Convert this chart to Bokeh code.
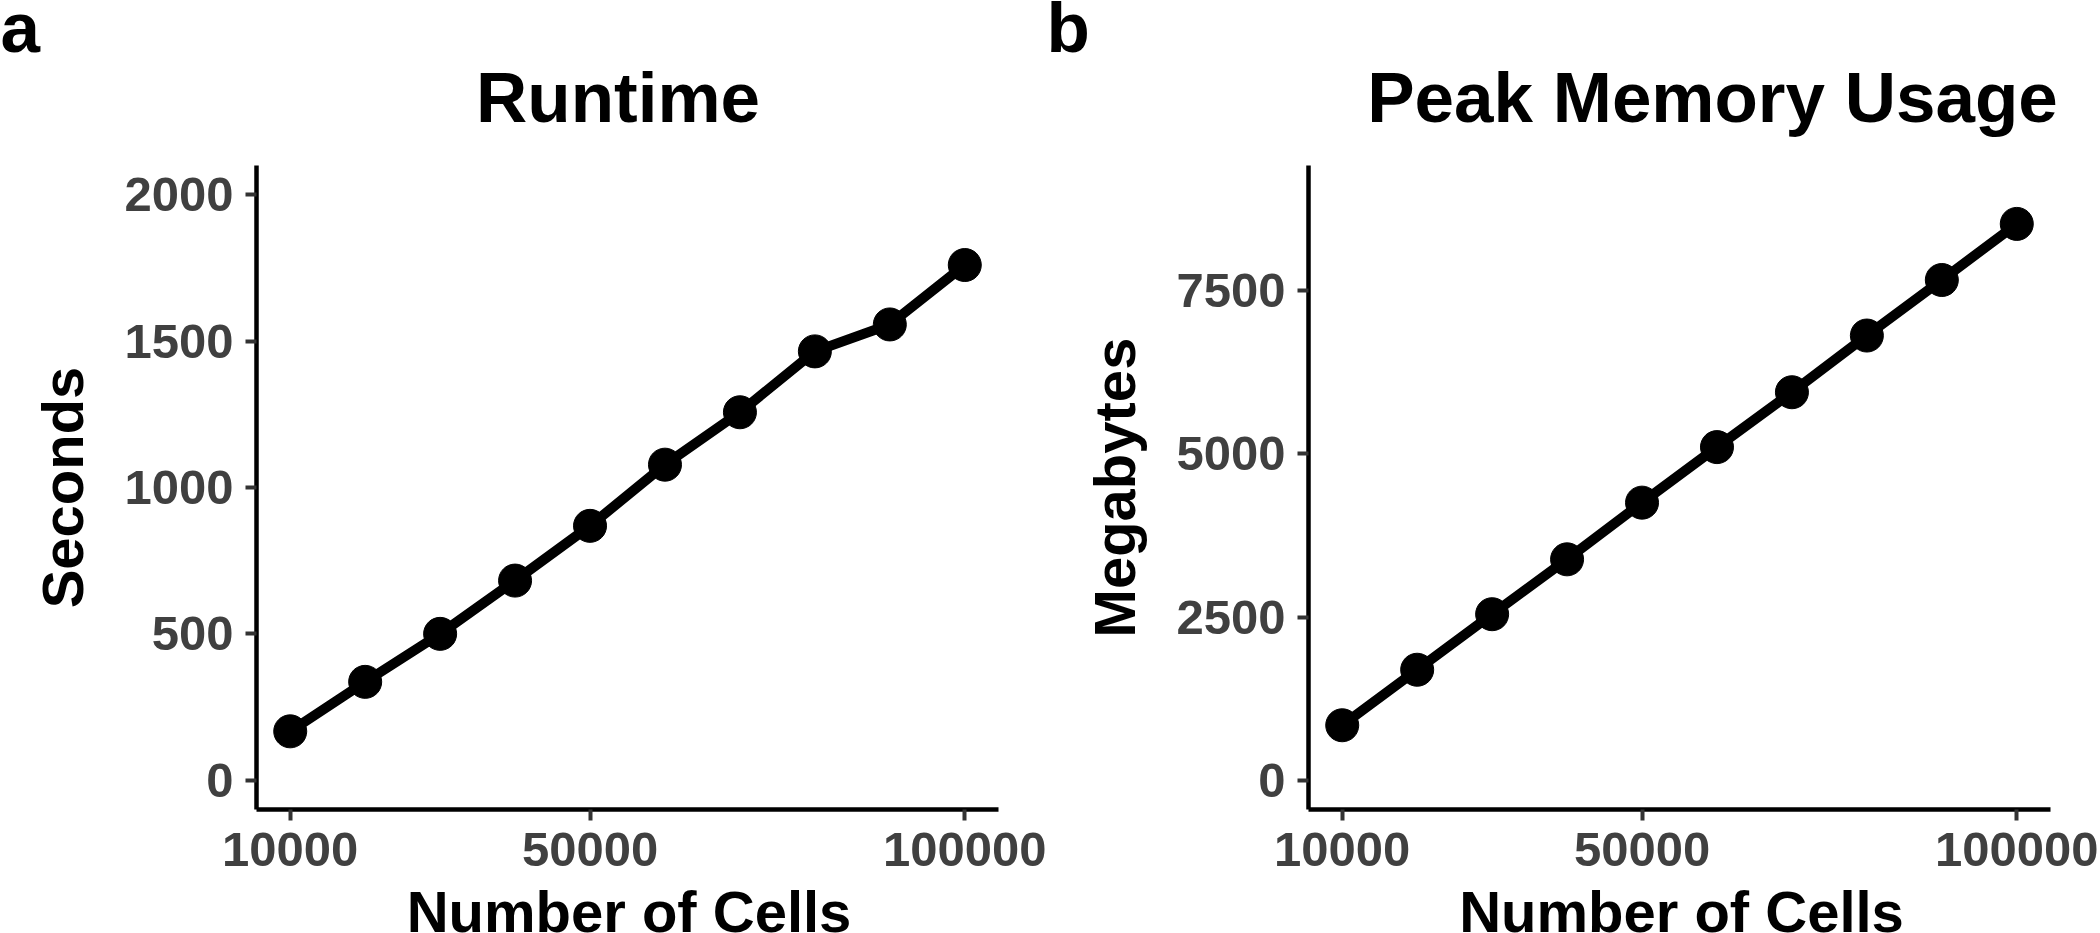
from bokeh.plotting import figure
from bokeh.layouts import row, column
from bokeh.models import Range1d, FixedTicker, BasicTickFormatter
from bokeh.core.properties import value
from bokeh.embed import file_html
from bokeh.resources import INLINE

# ---- data ----
cells = [10000, 20000, 30000, 40000, 50000, 60000, 70000, 80000, 90000, 100000]
runtime_seconds = [167, 336, 500, 682, 869, 1078, 1257, 1465, 1557, 1760]
memory_mb = [841, 1692, 2543, 3384, 4253, 5104, 5945, 6814, 7665, 8525]
x_ticks = [10000, 50000, 100000]
runtime_ticks = [0, 500, 1000, 1500, 2000]
memory_ticks = [0, 2500, 5000, 7500]
panel_titles = ["Runtime", "Peak Memory Usage"]
panel_tags = ["a", "b"]
x_label = "Number of Cells"

FONT = "Liberation Sans"
TICK_COLOR = "#404040"
TOTAL_W = 2100
HEADER_H = 157
PANEL_H = 732
FOOTER_H = 44


def text_strip(height, y_top, items):
    """A frame-only figure used to hold free text (pixel coordinates)."""
    f = figure(width=TOTAL_W, height=height,
               x_range=Range1d(0, TOTAL_W), y_range=Range1d(y_top + height, y_top),
               x_axis_type=None, y_axis_type=None,
               output_backend="svg", toolbar_location=None,
               min_border=0, min_border_left=0, min_border_right=0,
               min_border_top=0, min_border_bottom=0)
    f.xgrid.visible = False
    f.ygrid.visible = False
    f.outline_line_color = None
    for (tx, ty, txt, size, align) in items:
        f.text(x=[tx], y=[ty], text=[txt], text_align=align,
               text_baseline="alphabetic", text_font=value(FONT),
               text_font_style="bold", text_font_size=size,
               text_color="black")
    return f


def make_panel(vals, yticks, yrange, ylabel, border_left, border_right):
    p = figure(width=1050, height=PANEL_H,
               x_range=Range1d(5500, 104500), y_range=Range1d(*yrange),
               output_backend="svg", toolbar_location=None,
               min_border_left=border_left, min_border_right=border_right,
               min_border_top=8, min_border_bottom=80)
    p.xgrid.visible = False
    p.ygrid.visible = False
    p.outline_line_color = None

    p.line(cells, vals, line_width=10, color="black")
    p.scatter(cells, vals, size=33, color="black")

    p.xaxis.ticker = FixedTicker(ticks=x_ticks)
    p.yaxis.ticker = FixedTicker(ticks=yticks)
    p.xaxis.formatter = BasicTickFormatter(use_scientific=False)
    p.yaxis.formatter = BasicTickFormatter(use_scientific=False)

    for ax in (p.xaxis[0], p.yaxis[0]):
        ax.axis_line_width = 4.5
        ax.axis_line_color = "black"
        ax.major_tick_line_width = 4
        ax.major_tick_line_color = "#333333"
        ax.major_tick_in = 0
        ax.major_tick_out = 11
        ax.minor_tick_line_color = None
        ax.major_label_text_font = FONT
        ax.major_label_text_font_style = "bold"
        ax.major_label_text_font_size = "49px"
        ax.major_label_text_color = TICK_COLOR
    p.yaxis.major_label_standoff = 12
    p.xaxis.major_label_standoff = 12

    p.yaxis.axis_label = ylabel
    p.yaxis.axis_label_text_font = FONT
    p.yaxis.axis_label_text_font_style = "bold"
    p.yaxis.axis_label_text_font_size = "58px"
    p.yaxis.axis_label_text_color = "black"
    p.yaxis.axis_label_standoff = 26
    return p


header = text_strip(HEADER_H, 0, [
    (0, 27, panel_tags[0], "71px", "left"),
    (617.5, 97, panel_titles[0], "71px", "center"),
    (1046, 27, panel_tags[1], "71px", "left"),
    (1712, 97, panel_titles[1], "71px", "center"),
])

p1 = make_panel(runtime_seconds, runtime_ticks, (-100, 2100), "Seconds", 256, 52)
p2 = make_panel(memory_mb, memory_ticks, (-450, 9420), "Megabytes", 258, 50)

footer = text_strip(FOOTER_H, HEADER_H + PANEL_H, [
    (628.5, 911, x_label, "58px", "center"),
    (1681, 911, x_label, "58px", "center"),
])

layout = column(header, row(p1, p2), footer)
open("out.html", "w").write(file_html(layout, INLINE))
